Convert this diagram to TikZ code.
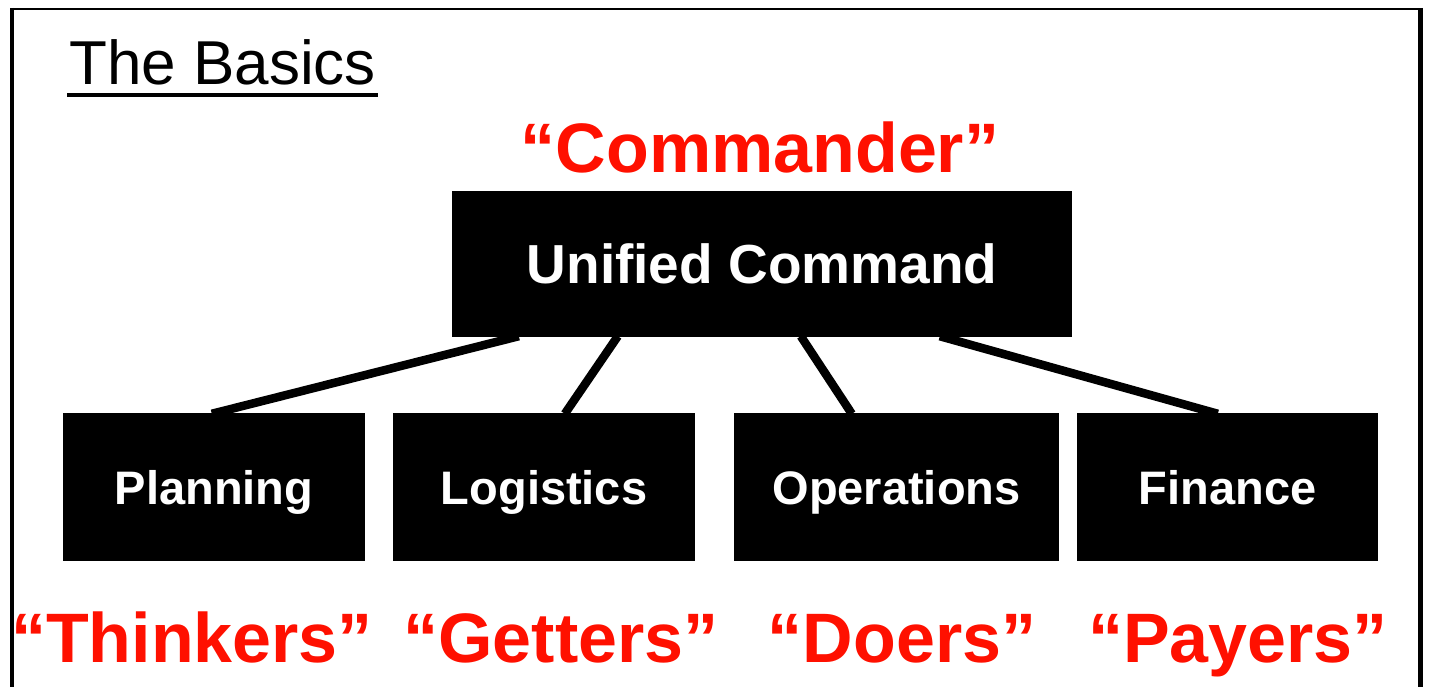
\documentclass[tikz,border=0pt]{standalone}
\usepackage{fontspec}
\setmainfont{Liberation Sans}
\usetikzlibrary{calc}
\definecolor{lblred}{RGB}{255,16,0}
\tikzset{
  box/.style={fill=black, draw=none, inner sep=0pt, text=white, text height=34pt, text depth=0pt,
              font=\bfseries\fontsize{47}{47}\selectfont},
  bigbox/.style={box, text height=39pt, text depth=-3pt, font=\bfseries\fontsize{55}{55}\selectfont},
  redlbl/.style={text=lblred, anchor=base, inner sep=0pt, font=\bfseries\fontsize{70}{70}\selectfont},
  link/.style={line width=8.5pt, black},
  frame/.style={black}
}
\begin{document}
\begin{tikzpicture}[x=1pt,y=-1pt]
\useasboundingbox (0,0) rectangle (1429,687);
% frame
\draw[frame, line width=2pt] (11,9) -- (1421,9);
\draw[frame, line width=4pt] (12,8) -- (12,687);
\draw[frame, line width=5pt] (1420.5,8) -- (1420.5,687);
% title
\node[anchor=base west, inner sep=0pt, font=\fontsize{62}{62}\selectfont] (title) at (69,85) {The Basics};
\draw[line width=4pt] ($(title.base west |- 0,95)+(-2,0)$) -- ($(title.base east |- 0,95)+(2,0)$);
% boxes
\node[bigbox, minimum width=620pt, minimum height=146pt] (uc) at (762,264) {Unified Command};
\node[box, minimum width=302pt, minimum height=148pt] (plan) at (214,487) {Planning};
\node[box, minimum width=302pt, minimum height=148pt] (logi) at (544,487) {Logistics};
\node[box, minimum width=325pt, minimum height=148pt] (oper) at (896.5,487) {Operations};
\node[box, minimum width=301pt, minimum height=148pt] (fin) at (1227.5,487) {Finance};
% connectors
\draw[link] ($(uc.south west)+(67,-1)$) -- ($(plan.north west)+(149,1)$);
\draw[link] ($(uc.south west)+(166,-1)$) -- ($(logi.north west)+(172,1)$);
\draw[link] ($(uc.south west)+(349,-1)$) -- ($(oper.north west)+(118,1)$);
\draw[link] ($(uc.south west)+(488,-1)$) -- ($(fin.north west)+(141,1)$);
% red labels
\node[redlbl] (cmd) at (760,173) {“Commander”};
\node[redlbl] (thk) at (192,662) {“Thinkers”};
\node[redlbl] (get) at (561,662) {“Getters”};
\node[redlbl] (doe) at (902,662) {“Doers”};
\node[redlbl] (pay) at (1238,662) {“Payers”};
\end{tikzpicture}
\end{document}
